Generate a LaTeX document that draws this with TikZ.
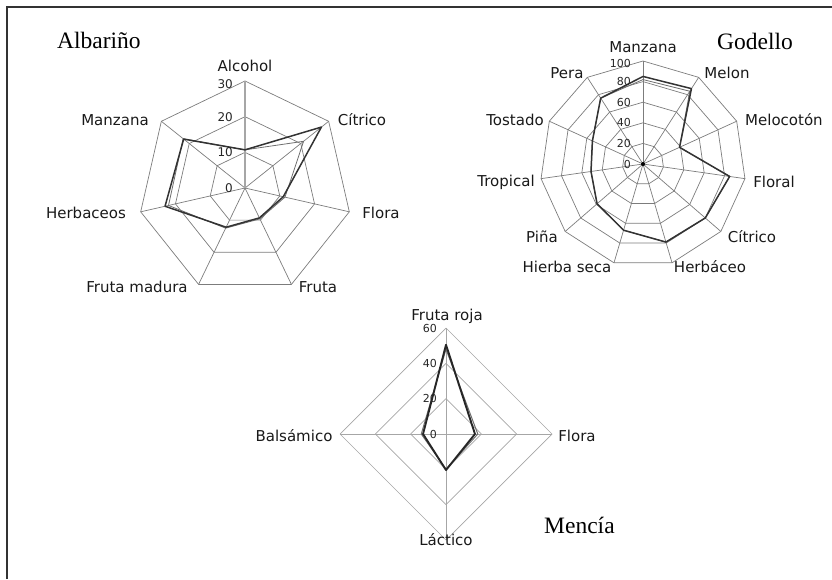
\documentclass[tikz,border=0pt]{standalone}
\usepackage{fontspec}
\setmainfont{Liberation Serif}
\setsansfont{DejaVu Sans}
\usepackage{tikz}
\usetikzlibrary{calc}
\definecolor{FrameGray}{HTML}{333333}
\definecolor{GridGray}{HTML}{7C7C7C}
\definecolor{LightGrid}{HTML}{A6A6A6}
\definecolor{InkGray}{HTML}{333333}
\definecolor{SoftInk}{HTML}{6E6E6E}

\begin{document}
\begin{tikzpicture}[
    x=1pt, y=1pt,
    grid/.style={draw=GridGray, line width=0.7pt, line join=round},
    lightgrid/.style={draw=LightGrid, line width=0.7pt, line join=round},
    spoke/.style={draw=LightGrid, line width=1.8pt},
    serie/.style={draw=InkGray, line width=1.5pt, line join=round},
    serieb/.style={draw=SoftInk, line width=0.8pt, line join=round},
    axlabel/.style={font=\sffamily\fontsize{15}{15}\selectfont, text=black!90, inner sep=0pt},
    ticklabel/.style={font=\sffamily\fontsize{11}{11}\selectfont, text=black!85, inner sep=0pt, anchor=east},
    title/.style={font=\fontsize{23.5}{23.5}\selectfont, inner sep=0pt, anchor=base west}
]
    \useasboundingbox (0,0) rectangle (832,-579);

    % Frame
    \draw[FrameGray, line width=1.5pt] (7,-579) -- (7,-7) -- (832,-7);

    % Albarino chart
    \begin{scope}[shift={(245,-188)}]
        \foreach \r in {35.67,71.33,107}
            \draw[grid] (90:\r) \foreach \k in {1,...,6} { -- ({90-\k*360/7}:\r) } -- cycle;
        \foreach \k in {1,...,6}
            \draw[grid] (0,0) -- ({90-\k*360/7}:107);
        \draw[spoke] (0,0) -- (90:107);
        \draw[serieb] (90:{10.7*107/30})
            \foreach \v [count=\k] in {21,11.5,9.6,12.5,22,22.2} { -- ({90-\k*360/7}:{\v*107/30}) } -- cycle;
        \draw[serie] (90:{10.7*107/30})
            \foreach \v [count=\k] in {27.4,11,9.3,12.2,23,22} { -- ({90-\k*360/7}:{\v*107/30}) } -- cycle;
        \foreach \t in {0,10,20}
            \node[ticklabel, font=\sffamily\fontsize{12}{12}\selectfont] (alb-t\t) at (-12,{\t*107/30}) {\t};
        \node[ticklabel, font=\sffamily\fontsize{12}{12}\selectfont] (alb-t30) at (-12,104) {30};
    \end{scope}
    \node[title] (alb-title) at (57,-48) {Albariño};
    \node[axlabel] (alb-alcohol) at (245,-66) {Alcohol};
    \node[axlabel] (alb-citrico) at (362,-120) {Cítrico};
    \node[axlabel] (alb-flora) at (381,-213) {Flora};
    \node[axlabel] (alb-fruta) at (318,-287) {Fruta};
    \node[axlabel] (alb-madura) at (137,-287) {Fruta madura};
    \node[axlabel] (alb-herb) at (86,-213) {Herbaceos};
    \node[axlabel] (alb-manzana) at (115,-120) {Manzana};

    % Godello chart
    \begin{scope}[shift={(643,-164)}]
        \foreach \r in {20.6,41.2,61.8,82.4,103}
            \draw[grid] (90:\r) \foreach \k in {1,...,10} { -- ({90-\k*360/11}:\r) } -- cycle;
        \foreach \k in {0,...,10}
            \draw[grid] (0,0) -- ({90-\k*360/11}:103);
        \draw[serieb] (90:{82*1.03})
            \foreach \v [count=\k] in {84,39,85,80,79,67,59,51,54,76} { -- ({90-\k*360/11}:{\v*1.03}) } -- cycle;
        \draw[serie] (90:{85*1.03})
            \foreach \v [count=\k] in {87,39,85,80,79,67,59,51,54,76} { -- ({90-\k*360/11}:{\v*1.03}) } -- cycle;
        \fill[black] (0,0) circle (2);
        \foreach \t in {0,20,40,60,80}
            \node[ticklabel] (god-t\t) at (-12,{\t*1.03}) {\t};
        \node[ticklabel] (god-t100) at (-12,101) {100};
    \end{scope}
    \node[title] (god-title) at (717,-49) {Godello};
    \node[axlabel] (god-manzana) at (643,-47) {Manzana};
    \node[axlabel] (god-melon) at (727,-73) {Melon};
    \node[axlabel, anchor=west] (god-melocoton) at (745,-120) {Melocotón};
    \node[axlabel] (god-floral) at (774,-182) {Floral};
    \node[axlabel] (god-citrico) at (752,-237) {Cítrico};
    \node[axlabel] (god-herbaceo) at (710,-267) {Herbáceo};
    \node[axlabel] (god-hierba) at (567,-267) {Hierba seca};
    \node[axlabel] (god-pina) at (542,-237) {Piña};
    \node[axlabel] (god-tropical) at (506,-182) {Tropical};
    \node[axlabel] (god-tostado) at (515,-120) {Tostado};
    \node[axlabel] (god-pera) at (567,-73) {Pera};

    % Mencia chart
    \begin{scope}[shift={(446,-434)}]
        \foreach \r in {35.33,70.67,106}
            \draw[lightgrid] (90:\r) -- (0:\r) -- (-90:\r) -- (180:\r) -- cycle;
        \foreach \a in {0,90,180,270}
            \draw[lightgrid] (0,0) -- (\a:106);
        \draw[serieb, line width=1pt] (90:{48*106/60}) -- (0:{18*106/60}) -- (-90:{20*106/60}) -- (180:{14*106/60}) -- cycle;
        \draw[serie, line width=1.9pt, draw=black!85] (90:{50.5*106/60}) -- (0:{16.4*106/60}) -- (-90:{20.4*106/60}) -- (180:{13*106/60}) -- cycle;
        \foreach \t in {0,20,40,60}
            \node[ticklabel] (men-t\t) at (-9,{\t*106/60}) {\t};
    \end{scope}
    \node[title] (men-title) at (544,-533) {Mencía};
    \node[axlabel] (men-roja) at (447,-316) {Fruta roja};
    \node[axlabel] (men-flora) at (577,-436) {Flora};
    \node[axlabel] (men-lactico) at (446,-540) {Láctico};
    \node[axlabel] (men-balsamico) at (294,-436) {Balsámico};
\end{tikzpicture}
\end{document}
